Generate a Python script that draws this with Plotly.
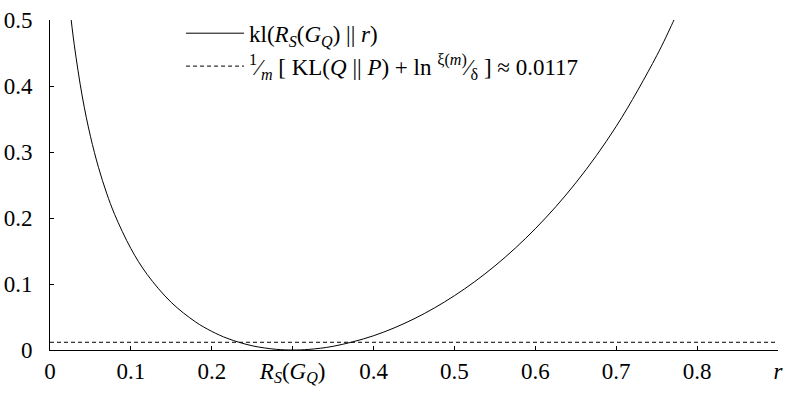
import plotly.graph_objects as go

# r values and kl(R_S(G_Q) || r) (minimum at R_S(G_Q) = 0.3)
r_vals = [0.02, 0.025, 0.03, 0.04, 0.05, 0.06, 0.07, 0.08, 0.10, 0.12, 0.15, 0.18,
          0.20, 0.22, 0.25, 0.28, 0.30, 0.32, 0.35, 0.40, 0.45, 0.50, 0.55, 0.60,
          0.65, 0.70, 0.75, 0.77, 0.775]
kl_vals = [0.577, 0.5135, 0.4624, 0.3834, 0.3238, 0.2765, 0.2377, 0.2052, 0.1537, 0.1147,
           0.0720, 0.0425, 0.0282, 0.0173, 0.0064, 0.00098, 0.0, 0.00093, 0.0056, 0.0216,
           0.0472, 0.0823, 0.1274, 0.1838, 0.2532, 0.3389, 0.4458, 0.4963, 0.5098]
bound_value = 0.0117
x_range = [0, 0.9]
y_range = [0, 0.5]
x_tickvals = [0, 0.1, 0.2, 0.3, 0.4, 0.5, 0.6, 0.7, 0.8, 0.9]
x_ticktext = ["0", "0.1", "0.2", "<i>R</i><sub><i>S</i></sub>(<i>G</i><sub><i>Q</i></sub>)",
              "0.4", "0.5", "0.6", "0.7", "0.8", "<i>r</i>"]
y_tickvals = [0, 0.1, 0.2, 0.3, 0.4, 0.5]
y_ticktext = ["0", "0.1", "0.2", "0.3", "0.4", "0.5"]

name_kl = "kl(<i>R</i><sub><i>S</i></sub>(<i>G</i><sub><i>Q</i></sub>) || <i>r</i>)"
name_bound = ("<sup>1</sup>⁄<sub><i>m</i></sub> [ KL(<i>Q</i> || <i>P</i>) + ln "
              "<sup>ξ(<i>m</i>)</sup>⁄<sub>δ</sub> ] ≈ 0.0117")

FONT = "Liberation Serif"
TICKFONT = dict(family=FONT, size=23, color="black")

fig = go.Figure()
fig.add_trace(go.Scatter(x=r_vals, y=kl_vals, mode="lines", name=name_kl,
                         line=dict(color="black", width=1, shape="spline")))
fig.add_trace(go.Scatter(x=x_range, y=[bound_value, bound_value], mode="lines", name=name_bound,
                         line=dict(color="black", width=1, dash="4px,3px")))

fig.update_layout(
    width=788, height=400,
    margin=dict(l=49, r=4, t=20, b=50),
    paper_bgcolor="white", plot_bgcolor="white",
    font=dict(family=FONT, size=23, color="black"),
    showlegend=True,
    legend=dict(x=0.18, y=1.025, xanchor="left", yanchor="top",
                bgcolor="rgba(0,0,0,0)", font=dict(size=23, family=FONT),
                itemwidth=58, tracegroupgap=0),
)
fig.update_xaxes(range=x_range, tickvals=x_tickvals, ticktext=x_ticktext,
                 tickfont=TICKFONT,
                 showgrid=False, zeroline=False, showline=True, linecolor="black",
                 linewidth=1, ticks="inside", ticklen=4, tickcolor="black",
                 ticklabelstandoff=0, ticklabeloverflow="allow")
fig.update_yaxes(range=y_range, tickvals=y_tickvals, ticktext=y_ticktext,
                 tickfont=TICKFONT,
                 showgrid=False, zeroline=False, showline=True, linecolor="black",
                 linewidth=1, ticks="inside", ticklen=4, tickcolor="black",
                 ticklabelstandoff=12, ticklabeloverflow="allow")

fig.write_html("out.html")
